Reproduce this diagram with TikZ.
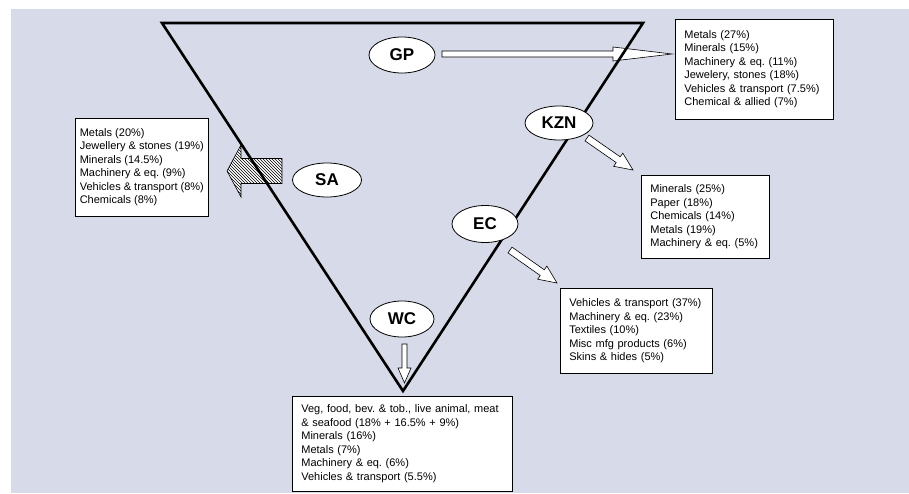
\documentclass[tikz,border=0pt]{standalone}
\usepackage{fontspec}
\setmainfont{Liberation Sans}
\usetikzlibrary{shapes.geometric,calc,patterns}

\definecolor{bgblue}{RGB}{215,218,232}
\frenchspacing

% hollow fat arrow: [options]{from}{to}{half shaft}{half head}{head length}
\newcommand{\fatarrow}[6][fill=white]{%
	\path ($(#3)!#6!(#2)$) coordinate (hb);
	\draw[#1] ($(#2)!#4!90:(#3)$) -- ($(hb)!#4!90:(#3)$) -- ($(hb)!#5!90:(#3)$) -- (#3)
		-- ($(hb)!#5!-90:(#3)$) -- ($(hb)!#4!-90:(#3)$) -- ($(#2)!#4!-90:(#3)$) -- cycle;
}

\begin{document}
\begin{tikzpicture}[x=1pt, y=-1pt,
		region/.style={ellipse, draw, fill=white, line width=0.8pt, inner sep=0pt, font=\fontsize{17}{17}\selectfont\bfseries},
		box/.style={draw, fill=white, line width=0.7pt, anchor=north west, align=left, inner xsep=9pt, inner ysep=0pt, font=\fontsize{11}{13.5}\selectfont}]
			\useasboundingbox (0,0) rectangle (909,493);
			\fill[bgblue] (11,9) rectangle (909,493);
		
			% boxes
			\node[box, text width=140, minimum height=100] (gpbox) at (675,19) {Metals (27\%)\\Minerals (15\%)\\Machinery \& eq. (11\%)\\Jewelery, stones (18\%)\\Vehicles \& transport (7.5\%)\\Chemical \& allied (7\%)};
			\node[box, text width=110, minimum height=83] (kznbox) at (641,175) {Minerals (25\%)\\Paper (18\%)\\Chemicals (14\%)\\Metals (19\%)\\Machinery \& eq. (5\%)};
			\node[box, text width=134, minimum height=85] (ecbox) at (560,288) {Vehicles \& transport (37\%)\\Machinery \& eq. (23\%)\\Textiles (10\%)\\Misc mfg products (6\%)\\Skins \& hides (5\%)};
			\node[box, inner xsep=3, minimum width=133, minimum height=98] (sabox) at (75,118) {Metals (20\%)\\Jewellery \& stones (19\%)\\Minerals (14.5\%)\\Machinery \& eq. (9\%)\\Vehicles \& transport (8\%)\\Chemicals (8\%)};
			\node[box, text width=202, minimum height=95] (wcbox) at (292,396) {Veg, food, bev. \& tob., live animal, meat\\\& seafood (18\% + 16.5\% + 9\%)\\Minerals (16\%)\\Metals (7\%)\\Machinery \& eq. (6\%)\\Vehicles \& transport (5.5\%)};
	
			% arrow ends
			\coordinate (gpout) at (442,54);
			\coordinate (gpin) at (672,54);
			\coordinate (kznout) at (587,138);
			\coordinate (kznin) at (633,170);
			\coordinate (ecout) at (510,250);
			\coordinate (ecin) at (557,283);
			\coordinate (saout) at (282,171);
			\coordinate (sain) at (227,171);
			\coordinate (wcout) at (404.5,344);
			\coordinate (wcin) at (404.5,383);
			
			\fatarrow[fill=white, line width=0.6pt]{gpout}{gpin}{3pt}{7pt}{59pt}
			\fatarrow[fill=white, line width=0.6pt]{kznout}{kznin}{3.5pt}{8pt}{18pt}
			\fatarrow[fill=white, line width=0.6pt]{ecout}{ecin}{3.5pt}{8pt}{18pt}
			\fatarrow[fill=white, line width=0.6pt]{wcout}{wcin}{2.5pt}{6.5pt}{15pt}
			\fatarrow[preaction={fill=white}, pattern=north west lines, line width=0.6pt]{saout}{sain}{12.5pt}{26pt}{14pt}
			
			% triangle
			\draw[line width=2.6pt, line join=miter] (162,23) -- (643,23) -- (403,391) -- cycle;
			
			% regions
			\node[region, minimum width=66, minimum height=36] (gp) at (402,55) {GP};
			\node[region, minimum width=68, minimum height=34] (kzn) at (559,123) {KZN};
			\node[region, minimum width=66, minimum height=37] (ec) at (485,224) {EC};
			\node[region, minimum width=69, minimum height=34] (sa) at (327,180) {SA};
			\node[region, minimum width=64, minimum height=36] (wc) at (402,319) {WC};
		\end{tikzpicture}
\end{document}
